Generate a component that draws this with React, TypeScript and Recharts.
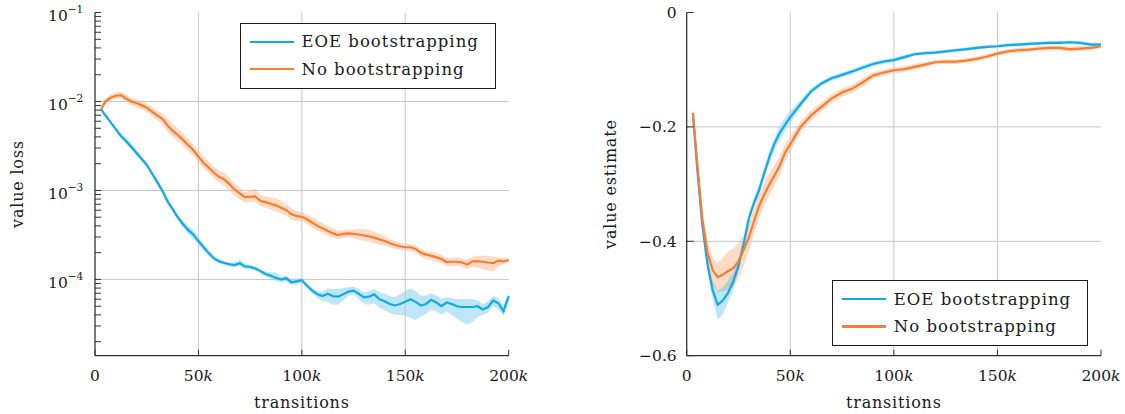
import React from "react"
import { ComposedChart, Line, Area, XAxis, YAxis, ReferenceLine } from "recharts"

const FONT = "DejaVu Serif"
const BLUE = "#12aae6"
const ORANGE = "#fb7c30"
const GRID = "#c6c6c6"
const FRAME = "#333333"
const INK = "#1a1a1a"

const SERIES_NAMES = ["EOE bootstrapping", "No bootstrapping"]

// transitions (in thousands) for the value-loss panel
const lossSteps = [
  3, 5, 7.5, 10, 12.5, 15, 17.5, 20, 22.5, 25,
  27.5, 30, 32.5, 35, 37.5, 40, 42.5, 45, 47.5, 50,
  52.5, 55, 57.5, 60, 62.5, 65, 67.5, 70, 72.5, 75,
  77.5, 80, 82.5, 85, 87.5, 90, 92.5, 95, 97.5, 100,
  102.5, 105, 107.5, 110, 112.5, 115, 117.5, 120, 122.5, 125,
  127.5, 130, 132.5, 135, 137.5, 140, 142.5, 145, 147.5, 150,
  152.5, 155, 157.5, 160, 162.5, 165, 167.5, 170, 172.5, 175,
  177.5, 180, 182.5, 185, 187.5, 190, 192.5, 195, 197.5, 200,
]

const eoeLoss = [
  8.17e-3, 7.0e-3, 5.86e-3, 4.9e-3, 4.1e-3, 3.6e-3, 3.1e-3, 2.65e-3, 2.27e-3, 1.94e-3,
  1.56e-3, 1.25e-3, 1.0e-3, 7.6e-4, 6.2e-4, 5.0e-4, 4.2e-4, 3.6e-4, 3.2e-4, 2.7e-4,
  2.3e-4, 1.98e-4, 1.72e-4, 1.6e-4, 1.53e-4, 1.48e-4, 1.45e-4, 1.52e-4, 1.4e-4, 1.38e-4,
  1.33e-4, 1.24e-4, 1.15e-4, 1.1e-4, 1.04e-4, 1.0e-4, 1.03e-4, 9.3e-5, 9.5e-5, 9.8e-5,
  8.5e-5, 7.5e-5, 6.8e-5, 6.5e-5, 6.9e-5, 6.5e-5, 6.4e-5, 6.8e-5, 7.3e-5, 7.5e-5,
  6.9e-5, 6.3e-5, 6.4e-5, 6.8e-5, 6.0e-5, 5.7e-5, 5.3e-5, 5.1e-5, 5.3e-5, 5.6e-5,
  6.0e-5, 5.6e-5, 5.1e-5, 5.3e-5, 5.9e-5, 5.5e-5, 5.0e-5, 5.5e-5, 5.3e-5, 5.0e-5,
  4.9e-5, 4.9e-5, 4.9e-5, 5.0e-5, 4.6e-5, 4.9e-5, 5.8e-5, 5.4e-5, 4.4e-5, 6.5e-5,
]
const eoeLossLo = [
  8.0e-3, 6.8e-3, 5.7e-3, 4.7e-3, 3.9e-3, 3.3e-3, 2.85e-3, 2.45e-3, 2.12e-3, 1.82e-3,
  1.46e-3, 1.16e-3, 9.3e-4, 7.0e-4, 5.8e-4, 4.65e-4, 3.85e-4, 3.25e-4, 2.85e-4, 2.45e-4,
  2.12e-4, 1.85e-4, 1.62e-4, 1.52e-4, 1.46e-4, 1.4e-4, 1.37e-4, 1.42e-4, 1.3e-4, 1.3e-4,
  1.26e-4, 1.17e-4, 1.08e-4, 1.02e-4, 9.5e-5, 9.3e-5, 9.6e-5, 8.6e-5, 8.8e-5, 9.1e-5,
  8.0e-5, 7.0e-5, 6.2e-5, 5.7e-5, 5.6e-5, 5.2e-5, 5.2e-5, 5.8e-5, 6.6e-5, 6.9e-5,
  6.0e-5, 5.3e-5, 5.2e-5, 5.4e-5, 4.8e-5, 4.5e-5, 4.2e-5, 4.0e-5, 4.0e-5, 3.9e-5,
  3.7e-5, 3.5e-5, 3.8e-5, 4.1e-5, 4.6e-5, 4.4e-5, 4.0e-5, 4.3e-5, 4.0e-5, 3.6e-5,
  3.3e-5, 3.1e-5, 3.3e-5, 3.8e-5, 4.0e-5, 4.2e-5, 5.0e-5, 4.6e-5, 3.9e-5, 5.8e-5,
]
const eoeLossHi = [
  8.3e-3, 7.2e-3, 6.05e-3, 5.15e-3, 4.4e-3, 3.95e-3, 3.4e-3, 2.85e-3, 2.42e-3, 2.07e-3,
  1.67e-3, 1.34e-3, 1.08e-3, 8.2e-4, 6.7e-4, 5.4e-4, 4.55e-4, 4.0e-4, 3.6e-4, 3.0e-4,
  2.5e-4, 2.12e-4, 1.83e-4, 1.68e-4, 1.6e-4, 1.56e-4, 1.55e-4, 1.68e-4, 1.5e-4, 1.46e-4,
  1.41e-4, 1.31e-4, 1.23e-4, 1.2e-4, 1.2e-4, 1.07e-4, 1.1e-4, 1.0e-4, 1.03e-4, 1.04e-4,
  9.0e-5, 8.0e-5, 7.4e-5, 7.3e-5, 7.9e-5, 7.8e-5, 7.8e-5, 8.0e-5, 8.2e-5, 8.3e-5,
  7.8e-5, 7.2e-5, 7.4e-5, 7.8e-5, 7.2e-5, 6.9e-5, 6.5e-5, 6.3e-5, 6.8e-5, 7.4e-5,
  7.9e-5, 7.4e-5, 6.6e-5, 6.6e-5, 7.0e-5, 6.6e-5, 6.1e-5, 6.3e-5, 6.2e-5, 6.0e-5,
  6.0e-5, 6.1e-5, 6.0e-5, 5.8e-5, 5.3e-5, 5.7e-5, 6.5e-5, 6.2e-5, 5.2e-5, 7.0e-5,
]

const noLoss = [
  8.17e-3, 1.0e-2, 1.1e-2, 1.16e-2, 1.18e-2, 1.08e-2, 1.0e-2, 9.6e-3, 9.1e-3, 8.5e-3,
  7.7e-3, 7.0e-3, 6.4e-3, 5.4e-3, 4.7e-3, 4.2e-3, 3.7e-3, 3.25e-3, 2.85e-3, 2.4e-3,
  2.05e-3, 1.8e-3, 1.58e-3, 1.42e-3, 1.33e-3, 1.18e-3, 1.02e-3, 9.3e-4, 8.4e-4, 8.5e-4,
  8.6e-4, 7.6e-4, 7.4e-4, 7.1e-4, 6.8e-4, 6.4e-4, 6.0e-4, 5.4e-4, 5.15e-4, 5.05e-4,
  4.75e-4, 4.35e-4, 4.0e-4, 3.75e-4, 3.5e-4, 3.3e-4, 3.15e-4, 3.25e-4, 3.3e-4, 3.25e-4,
  3.2e-4, 3.12e-4, 3.05e-4, 2.95e-4, 2.82e-4, 2.7e-4, 2.55e-4, 2.44e-4, 2.36e-4, 2.3e-4,
  2.3e-4, 2.2e-4, 2.0e-4, 1.9e-4, 1.85e-4, 1.77e-4, 1.7e-4, 1.57e-4, 1.58e-4, 1.58e-4,
  1.55e-4, 1.47e-4, 1.6e-4, 1.6e-4, 1.58e-4, 1.55e-4, 1.53e-4, 1.63e-4, 1.6e-4, 1.65e-4,
]
const noLossLo = [
  7.9e-3, 9.3e-3, 1.02e-2, 1.07e-2, 1.08e-2, 9.9e-3, 9.1e-3, 8.7e-3, 8.2e-3, 7.6e-3,
  6.8e-3, 6.2e-3, 5.5e-3, 4.6e-3, 4.0e-3, 3.6e-3, 3.15e-3, 2.8e-3, 2.45e-3, 2.08e-3,
  1.78e-3, 1.55e-3, 1.36e-3, 1.22e-3, 1.12e-3, 9.9e-4, 8.7e-4, 8.0e-4, 7.3e-4, 7.4e-4,
  7.4e-4, 6.6e-4, 6.4e-4, 6.1e-4, 5.8e-4, 5.5e-4, 5.2e-4, 4.7e-4, 4.5e-4, 4.5e-4,
  4.2e-4, 3.85e-4, 3.55e-4, 3.3e-4, 3.1e-4, 2.95e-4, 2.85e-4, 2.95e-4, 3.0e-4, 2.9e-4,
  2.8e-4, 2.7e-4, 2.65e-4, 2.55e-4, 2.45e-4, 2.4e-4, 2.3e-4, 2.2e-4, 2.15e-4, 2.1e-4,
  2.1e-4, 2.0e-4, 1.8e-4, 1.7e-4, 1.65e-4, 1.57e-4, 1.52e-4, 1.42e-4, 1.42e-4, 1.42e-4,
  1.38e-4, 1.3e-4, 1.4e-4, 1.35e-4, 1.3e-4, 1.25e-4, 1.22e-4, 1.4e-4, 1.48e-4, 1.55e-4,
]
const noLossHi = [
  8.4e-3, 1.07e-2, 1.19e-2, 1.26e-2, 1.29e-2, 1.19e-2, 1.1e-2, 1.06e-2, 1.01e-2, 9.5e-3,
  8.7e-3, 7.9e-3, 7.4e-3, 6.4e-3, 5.6e-3, 5.0e-3, 4.4e-3, 3.8e-3, 3.3e-3, 2.8e-3,
  2.4e-3, 2.1e-3, 1.85e-3, 1.68e-3, 1.58e-3, 1.4e-3, 1.2e-3, 1.08e-3, 9.6e-4, 1.0e-3,
  1.05e-3, 8.9e-4, 8.6e-4, 8.4e-4, 8.2e-4, 7.6e-4, 7.0e-4, 6.3e-4, 5.9e-4, 5.7e-4,
  5.4e-4, 5.0e-4, 4.6e-4, 4.3e-4, 4.0e-4, 3.75e-4, 3.55e-4, 3.6e-4, 3.65e-4, 3.65e-4,
  3.7e-4, 3.7e-4, 3.6e-4, 3.45e-4, 3.25e-4, 3.05e-4, 2.85e-4, 2.7e-4, 2.6e-4, 2.5e-4,
  2.5e-4, 2.4e-4, 2.2e-4, 2.1e-4, 2.05e-4, 1.97e-4, 1.88e-4, 1.75e-4, 1.76e-4, 1.76e-4,
  1.72e-4, 1.66e-4, 1.8e-4, 1.85e-4, 1.85e-4, 1.85e-4, 1.8e-4, 1.8e-4, 1.72e-4, 1.75e-4,
]

// transitions (in thousands) for the value-estimate panel
const valueSteps = [
  3, 5, 7.5, 10, 12.5, 15, 17.5, 20, 22.5, 25,
  27.5, 30, 32.5, 35, 37.5, 40, 42.5, 45, 47.5, 50,
  55, 60, 65, 70, 75, 80, 85, 90, 95, 100,
  105, 110, 115, 120, 125, 130, 135, 140, 145, 150,
  155, 160, 165, 170, 175, 180, 185, 190, 195, 200,
]

const eoeValue = [
  -0.176, -0.27, -0.37, -0.44, -0.485, -0.511, -0.503, -0.49, -0.47, -0.443,
  -0.405, -0.36, -0.333, -0.31, -0.28, -0.252, -0.228, -0.21, -0.196, -0.183,
  -0.16, -0.138, -0.124, -0.115, -0.109, -0.103, -0.096, -0.09, -0.086, -0.083,
  -0.078, -0.073, -0.071, -0.07, -0.068, -0.066, -0.064, -0.062, -0.06, -0.059,
  -0.057, -0.056, -0.055, -0.054, -0.053, -0.053, -0.052, -0.053, -0.056, -0.056,
]
const eoeValueLo = [
  -0.184, -0.278, -0.38, -0.45, -0.5, -0.537, -0.527, -0.507, -0.484, -0.453,
  -0.414, -0.368, -0.34, -0.318, -0.289, -0.262, -0.238, -0.222, -0.207, -0.193,
  -0.166, -0.143, -0.128, -0.119, -0.113, -0.107, -0.1, -0.094, -0.09, -0.087,
  -0.082, -0.076, -0.074, -0.073, -0.071, -0.069, -0.067, -0.065, -0.063, -0.062,
  -0.06, -0.059, -0.058, -0.057, -0.056, -0.056, -0.055, -0.056, -0.059, -0.059,
]
const eoeValueHi = [
  -0.166, -0.26, -0.358, -0.428, -0.468, -0.486, -0.48, -0.468, -0.453, -0.43,
  -0.394, -0.35, -0.324, -0.3, -0.27, -0.242, -0.218, -0.198, -0.184, -0.172,
  -0.153, -0.132, -0.12, -0.111, -0.105, -0.099, -0.092, -0.086, -0.082, -0.079,
  -0.074, -0.07, -0.068, -0.067, -0.065, -0.063, -0.061, -0.059, -0.057, -0.056,
  -0.054, -0.053, -0.052, -0.051, -0.05, -0.05, -0.049, -0.05, -0.053, -0.053,
]

const noValue = [
  -0.176, -0.26, -0.36, -0.42, -0.45, -0.463, -0.458, -0.452, -0.447, -0.435,
  -0.415, -0.393, -0.365, -0.338, -0.318, -0.3, -0.284, -0.267, -0.245, -0.23,
  -0.2, -0.18, -0.165, -0.15, -0.14, -0.133, -0.122, -0.11, -0.105, -0.101,
  -0.099, -0.095, -0.091, -0.087, -0.086, -0.086, -0.084, -0.081, -0.077, -0.072,
  -0.068, -0.066, -0.065, -0.063, -0.062, -0.062, -0.064, -0.063, -0.062, -0.059,
]
const noValueLo = [
  -0.184, -0.27, -0.375, -0.44, -0.477, -0.488, -0.488, -0.485, -0.48, -0.465,
  -0.443, -0.418, -0.387, -0.358, -0.338, -0.32, -0.302, -0.284, -0.26, -0.243,
  -0.21, -0.189, -0.173, -0.157, -0.147, -0.14, -0.13, -0.116, -0.11, -0.106,
  -0.104, -0.1, -0.096, -0.091, -0.09, -0.09, -0.088, -0.085, -0.081, -0.076,
  -0.072, -0.07, -0.069, -0.067, -0.066, -0.066, -0.068, -0.067, -0.066, -0.062,
]
const noValueHi = [
  -0.166, -0.248, -0.342, -0.398, -0.428, -0.438, -0.428, -0.418, -0.412, -0.403,
  -0.388, -0.368, -0.343, -0.318, -0.296, -0.28, -0.266, -0.25, -0.23, -0.217,
  -0.19, -0.171, -0.157, -0.143, -0.133, -0.126, -0.115, -0.104, -0.1, -0.096,
  -0.094, -0.09, -0.086, -0.083, -0.082, -0.082, -0.08, -0.077, -0.073, -0.068,
  -0.064, -0.062, -0.061, -0.059, -0.058, -0.058, -0.06, -0.059, -0.058, -0.056,
]

const STEP_TICKS = [0, 50, 100, 150, 200]
const STEP_GRID = [50, 100, 150]

const LOSS_MAJOR = [1e-4, 1e-3, 1e-2, 1e-1]
const LOSS_TICKS = [
  2e-5, 3e-5, 4e-5, 5e-5, 6e-5, 7e-5, 8e-5, 9e-5,
  1e-4, 2e-4, 3e-4, 4e-4, 5e-4, 6e-4, 7e-4, 8e-4, 9e-4,
  1e-3, 2e-3, 3e-3, 4e-3, 5e-3, 6e-3, 7e-3, 8e-3, 9e-3,
  1e-2, 2e-2, 3e-2, 4e-2, 5e-2, 6e-2, 7e-2, 8e-2, 9e-2,
  1e-1,
]
const LOSS_DOMAIN: [number, number] = [1.39e-5, 0.1]
const LOSS_GRID = [1e-4, 1e-3, 1e-2]

const VALUE_TICKS = [-0.6, -0.4, -0.2, 0]
const VALUE_DOMAIN: [number, number] = [-0.6, 0]
const VALUE_GRID = [-0.4, -0.2]

const lossRows = lossSteps.map((step, i) => ({
  step,
  eoe: eoeLoss[i],
  eoeBand: [eoeLossLo[i], eoeLossHi[i]],
  none: noLoss[i],
  noneBand: [noLossLo[i], noLossHi[i]],
}))

const valueRows = valueSteps.map((step, i) => ({
  step,
  eoe: eoeValue[i],
  eoeBand: [eoeValueLo[i], eoeValueHi[i]],
  none: noValue[i],
  noneBand: [noValueLo[i], noValueHi[i]],
}))

const CHART_W = 560
const CHART_H = 414

function StepTick({ x, y, payload }: any) {
  const v = payload.value
  return (
    <text x={x} y={y + 25} textAnchor="middle" fontFamily={FONT} fontSize={15.5} fill={INK}>
      {v === 0 ? "0" : (
        <>
          {v}
          <tspan fontStyle="italic">k</tspan>
        </>
      )}
    </text>
  )
}

function LossTick({ x, y, payload }: any) {
  if (!LOSS_MAJOR.includes(payload.value)) return <g />
  const exp = Math.round(Math.log10(payload.value))
  return (
    <text x={x} y={y + 8.2} textAnchor="end" fontFamily={FONT} fontSize={15.5} fill={INK}>
      10
      <tspan dy={-8} fontSize={10.5}>{`\u2212${-exp}`}</tspan>
    </text>
  )
}

function ValueTick({ x, y, payload }: any) {
  const v = payload.value
  const text = v === 0 ? "0" : `\u2212${Math.abs(v).toFixed(1)}`
  return (
    <text x={x} y={y + 5.5} textAnchor="end" fontFamily={FONT} fontSize={15.5} fill={INK}>
      {text}
    </text>
  )
}

function sideLabel(text: string, dx: number) {
  return ({ viewBox }: any) => {
    const cx = viewBox.x + dx
    const cy = viewBox.y + viewBox.height / 2
    return (
      <text
        transform={`translate(${cx}, ${cy}) rotate(-90)`}
        textAnchor="middle"
        dominantBaseline="central"
        fontFamily={FONT}
        fontSize={16}
        letterSpacing={0.8}
        fill={INK}
      >
        {text}
      </text>
    )
  }
}

function bottomLabel(text: string) {
  return ({ viewBox }: any) => (
    <text
      x={viewBox.x + viewBox.width / 2}
      y={viewBox.y + viewBox.height - 6}
      textAnchor="middle"
      fontFamily={FONT}
      fontSize={16}
      letterSpacing={0.8}
      fill={INK}
    >
      {text}
    </text>
  )
}

function LegendBox({ left, top }: { left: number; top: number }) {
  const colors = [BLUE, ORANGE]
  return (
    <div
      style={{
        position: "absolute",
        left,
        top,
        width: 256,
        height: 66,
        boxSizing: "border-box",
        border: `1.3px solid ${INK}`,
        background: "#fff",
        fontFamily: FONT,
        color: INK,
      }}
    >
      {SERIES_NAMES.map((name, i) => (
        <div
          key={name}
          style={{
            position: "absolute",
            left: 0,
            top: 4 + 27.5 * i,
            height: 28,
            display: "flex",
            alignItems: "center",
            whiteSpace: "nowrap",
          }}
        >
          <span style={{ display: "inline-block", marginLeft: 9, width: 44, height: 2.2, background: colors[i] }} />
          <span style={{ marginLeft: 7.5, fontSize: 16.5, letterSpacing: 1 }}>{name}</span>
        </div>
      ))}
    </div>
  )
}

interface PanelProps {
  rows: any[]
  left: number
  axisWidth: number
  rightGap: number
  yLabel: string
  yLabelDx: number
  yScale: "log" | "linear"
  yDomain: [number, number]
  yTicks: number[]
  yGrid: number[]
  yTick: (p: any) => React.ReactElement
  yTickSize: number
  yTickMargin: number
}

function Panel(p: PanelProps) {
  return (
    <div style={{ position: "absolute", left: p.left, top: 0 }}>
      <ComposedChart
        width={CHART_W}
        height={CHART_H}
        data={p.rows}
        margin={{ top: 12.5, right: p.rightGap, bottom: 0, left: 0 }}
        style={{ fontFamily: FONT }}
      >
        {p.yGrid.map((v) => (
          <ReferenceLine key={`gy${v}`} y={v} stroke={GRID} strokeWidth={1} />
        ))}
        {STEP_GRID.map((v) => (
          <ReferenceLine key={`gx${v}`} x={v} stroke={GRID} strokeWidth={1} />
        ))}

        <Area type="linear" dataKey="noneBand" stroke="none" fill={ORANGE} fillOpacity={0.28} isAnimationActive={false} activeDot={false} />
        <Area type="linear" dataKey="eoeBand" stroke="none" fill={BLUE} fillOpacity={0.28} isAnimationActive={false} activeDot={false} />
        <Line type="linear" dataKey="eoe" stroke={BLUE} strokeWidth={2.2} dot={false} activeDot={false} isAnimationActive={false} />
        <Line type="linear" dataKey="none" stroke={ORANGE} strokeWidth={2.2} dot={false} activeDot={false} isAnimationActive={false} />

        <XAxis
          dataKey="step"
          type="number"
          domain={[0, 200]}
          ticks={STEP_TICKS}
          interval={0}
          height={58.3}
          tickSize={-6}
          tickMargin={6}
          tick={StepTick}
          axisLine={{ stroke: FRAME, strokeWidth: 1.3 }}
          tickLine={{ stroke: FRAME }}
          label={{ content: bottomLabel("transitions") }}
        />
        <XAxis
          xAxisId="top"
          orientation="top"
          type="number"
          domain={[0, 200]}
          ticks={STEP_TICKS}
          interval={0}
          mirror
          height={0}
          tick={false}
          tickSize={6}
          axisLine={{ stroke: FRAME, strokeWidth: 1.3 }}
          tickLine={{ stroke: FRAME }}
        />
        <YAxis
          type="number"
          scale={p.yScale}
          domain={p.yDomain}
          allowDataOverflow
          ticks={p.yTicks}
          interval={0}
          width={p.axisWidth}
          tickSize={-p.yTickSize}
          tickMargin={p.yTickMargin}
          tick={p.yTick}
          axisLine={{ stroke: FRAME, strokeWidth: 1.3 }}
          tickLine={{ stroke: FRAME }}
          label={{ content: sideLabel(p.yLabel, p.yLabelDx) }}
        />
        <YAxis
          yAxisId="edge"
          orientation="right"
          type="number"
          scale={p.yScale}
          domain={p.yDomain}
          allowDataOverflow
          ticks={p.yTicks}
          interval={0}
          mirror
          width={0}
          tick={false}
          tickSize={p.yTickSize}
          axisLine={{ stroke: FRAME, strokeWidth: 1.3 }}
          tickLine={{ stroke: FRAME }}
        />
      </ComposedChart>
    </div>
  )
}

export default function App() {
  return (
    <div style={{ position: "absolute", left: 0, top: 0, width: 1125, height: 414, background: "#fff", overflow: "hidden" }}>
      <Panel
        rows={lossRows}
        left={0}
        axisWidth={95}
        rightGap={CHART_W - 508.7}
        yLabel="value loss"
        yLabelDx={17}
        yScale="log"
        yDomain={LOSS_DOMAIN}
        yTicks={LOSS_TICKS}
        yGrid={LOSS_GRID}
        yTick={LossTick}
        yTickSize={6}
        yTickMargin={17.7}
      />
      <Panel
        rows={valueRows}
        left={565}
        axisWidth={121.7}
        rightGap={24}
        yLabel="value estimate"
        yLabelDx={45}
        yScale="linear"
        yDomain={VALUE_DOMAIN}
        yTicks={VALUE_TICKS}
        yGrid={VALUE_GRID}
        yTick={ValueTick}
        yTickSize={7}
        yTickMargin={17}
      />
      <LegendBox left={240} top={22.7} />
      <LegendBox left={832.3} top={280} />
    </div>
  )
}
